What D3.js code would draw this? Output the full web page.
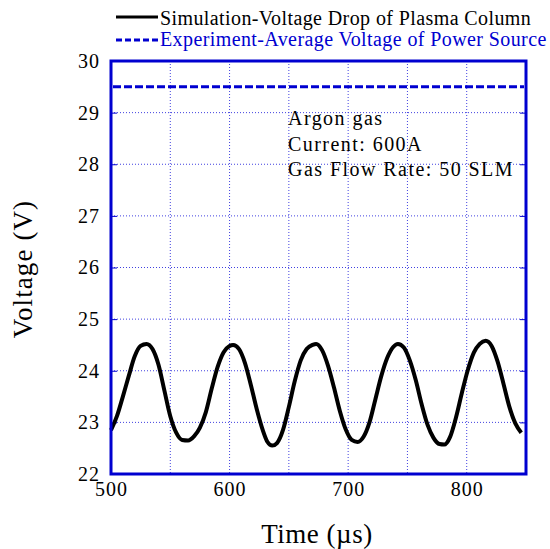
<!DOCTYPE html>
<html><head><meta charset="utf-8">
<script src="https://cdn.jsdelivr.net/npm/d3@7"></script>
<style>body{margin:0;background:#fff}svg{display:block}</style>
</head><body>
<script>
const timeUs = [500,505,510,515,520,525,530,535,540,545,550,555,560,565,570,575,580,585,590,595,600,603,608,613,618,623,628,632,636,640,645,650,655,660,665,670,673,678,683,688,693,698,703,708,713,718,723,728,733,738,742,747,752,757,762,767,772,777,781,786,791,796,801,806,811,816,821,826,831,836,841,846];
const simVoltage = [22.85,23.12,23.5,23.9,24.28,24.48,24.52,24.42,24.12,23.62,23.12,22.8,22.66,22.65,22.73,22.9,23.2,23.66,24.08,24.36,24.48,24.5,24.42,24.15,23.72,23.25,22.85,22.62,22.55,22.6,22.85,23.3,23.8,24.2,24.42,24.5,24.52,24.4,24.1,23.68,23.22,22.86,22.66,22.62,22.72,23.0,23.45,23.9,24.25,24.46,24.52,24.45,24.2,23.82,23.35,22.95,22.7,22.58,22.57,22.72,23.1,23.58,24.02,24.35,24.52,24.58,24.48,24.18,23.75,23.3,22.98,22.8];
const expAverage = 29.5;
const xTicks = [500,600,700,800];
const xGrid = [550,600,650,700,750,800];
const yTicks = [22,23,24,25,26,27,28,29,30];
const legendLabels = ["Simulation-Voltage Drop of Plasma Column","Experiment-Average Voltage of Power Source"];
const noteLines = ["Argon gas","Current: 600A","Gas Flow Rate: 50 SLM"];

const W=550,H=549;
const m={l:111,r:526,t:61,b:474};
const svg=d3.select("body").append("svg").attr("width",W).attr("height",H);
const font="'Liberation Serif','Times New Roman',serif";
const x=d3.scaleLinear().domain([500,850]).range([m.l,m.r]);
const y=d3.scaleLinear().domain([22,30]).range([m.b,m.t]);
const blue="#0000d0";

// grid
const g=svg.append("g");
g.selectAll(".gx").data(xGrid).enter().append("line")
 .attr("x1",d=>x(d)).attr("x2",d=>x(d)).attr("y1",m.t).attr("y2",m.b)
 .attr("stroke","#4040e0").attr("stroke-width",1).attr("stroke-dasharray","1,2");
g.selectAll(".gy").data(yTicks.slice(1,-1)).enter().append("line")
 .attr("x1",m.l).attr("x2",m.r).attr("y1",d=>y(d)).attr("y2",d=>y(d))
 .attr("stroke","#4040e0").attr("stroke-width",1).attr("stroke-dasharray","1,2");

// inner ticks
svg.append("g").attr("transform",`translate(${m.l},0)`)
 .call(d3.axisRight(y).tickValues(yTicks).tickSize(6).tickFormat(""))
 .call(a=>a.select(".domain").remove()).selectAll("line").attr("stroke",blue);
svg.append("g").attr("transform",`translate(${m.r},0)`)
 .call(d3.axisLeft(y).tickValues(yTicks).tickSize(6).tickFormat(""))
 .call(a=>a.select(".domain").remove()).selectAll("line").attr("stroke",blue);

// tick labels
svg.append("g").attr("transform",`translate(${m.l-4},0)`)
 .call(d3.axisLeft(y).tickValues(yTicks).tickSize(0).tickPadding(7).tickFormat(d3.format("d")))
 .call(a=>a.select(".domain").remove())
 .call(a=>a.attr("font-family",font).attr("font-size",20))
 .selectAll("text").attr("fill","#000").attr("letter-spacing","1px");
svg.append("g").attr("transform",`translate(0,${m.b+8})`)
 .call(d3.axisBottom(x).tickValues(xTicks).tickSize(0).tickPadding(0).tickFormat(d3.format("d")))
 .call(a=>a.select(".domain").remove())
 .call(a=>a.attr("font-family",font).attr("font-size",20))
 .selectAll("text").attr("fill","#000").attr("letter-spacing","1px");

// experiment line
svg.append("line").attr("x1",m.l+2).attr("x2",m.r-2).attr("y1",y(expAverage)).attr("y2",y(expAverage))
 .attr("stroke",blue).attr("stroke-width",3).attr("stroke-dasharray","8,3");

// simulation curve
const line=d3.line().x((d,i)=>x(timeUs[i])).y(d=>y(d)).curve(d3.curveMonotoneX);
svg.append("path").datum(simVoltage).attr("d",line).attr("fill","none")
 .attr("stroke","#000").attr("stroke-width",4).attr("stroke-linejoin","round");

// frame
svg.append("rect").attr("x",m.l).attr("y",m.t).attr("width",m.r-m.l).attr("height",m.b-m.t)
 .attr("fill","none").attr("stroke",blue).attr("stroke-width",3);

// notes
svg.append("g").selectAll("text").data(noteLines).enter().append("text")
 .attr("x",288).attr("y",(d,i)=>125+i*25.7).text(d=>d)
 .attr("font-family",font).attr("font-size","20px").attr("letter-spacing","1.45px").attr("fill","#000");

// legend
const lg=svg.append("g");
lg.append("line").attr("x1",116).attr("x2",158).attr("y1",17).attr("y2",17).attr("stroke","#000").attr("stroke-width",3);
lg.append("line").attr("x1",116).attr("x2",158).attr("y1",40).attr("y2",40).attr("stroke",blue).attr("stroke-width",3).attr("stroke-dasharray","6,3");
lg.selectAll("text").data(legendLabels).enter().append("text")
 .attr("x",160).attr("y",(d,i)=>24.5+i*21.5).text(d=>d)
 .attr("font-family",font).attr("font-size","20px").attr("letter-spacing","0.4px").attr("fill",(d,i)=>i?blue:"#000");

// axis titles
svg.append("text").attr("x",317).attr("y",543).attr("text-anchor","middle")
 .attr("font-family",font).attr("font-size","27px").attr("letter-spacing","0.5px").text("Time (µs)");
svg.append("text").attr("transform","translate(32,269) rotate(-90)").attr("text-anchor","middle")
 .attr("font-family",font).attr("font-size","27px").attr("letter-spacing","1.1px").text("Voltage (V)");
</script>
</body></html>
